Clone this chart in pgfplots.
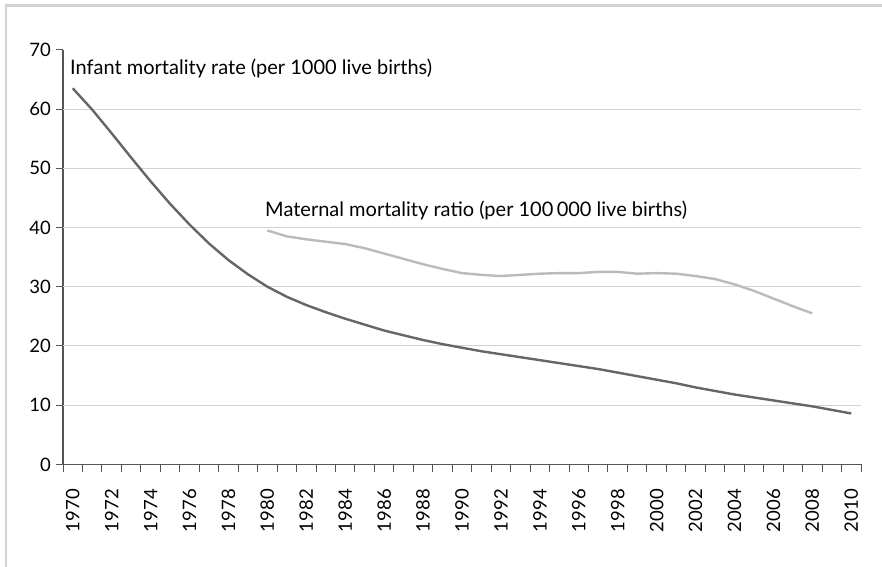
\documentclass[border=0pt]{standalone}
\usepackage{pgfplots}
\pgfplotsset{compat=1.18}
\usepackage{fontspec}
\setmainfont{Lato}
\definecolor{infant}{HTML}{666666}
\definecolor{maternal}{HTML}{BBBBBB}
\definecolor{gridc}{HTML}{D3D3D3}
\definecolor{axisc}{HTML}{555555}
\definecolor{framec}{HTML}{D2D2D2}
\begin{document}
\begin{tikzpicture}
\useasboundingbox (0,0) rectangle (882bp,567bp);
\fill[white] (0,0) rectangle (882bp,567bp);
\draw[framec, line width=2.6bp] (6bp,-2bp) -- (6bp,561.6bp) -- (884bp,561.6bp);
\begin{axis}[
  at={(63bp,102.6bp)}, anchor=south west,
  scale only axis, width=798bp, height=414.6bp,
  xmin=1969.5, xmax=2010.5, ymin=0, ymax=70,
  axis lines*=left,
  axis line style={axisc, line width=1.2bp},
  every tick/.style={axisc, line width=1bp},
  tick align=outside,
  xtick={1970,1972,...,2010},
  major x tick style={draw=none},
  minor xtick={1969.5,1970.5,...,2010.5},
  minor tick length=8bp,
  ytick={0,10,...,70},
  major tick length=7bp,
  extra y ticks={10,20,...,60},
  extra y tick labels={},
  extra y tick style={grid=major, major tick length=0pt},
  grid style={gridc, line width=0.9bp},
  /pgf/number format/assume math mode=true,
  /pgf/number format/1000 sep={},
  tick label style={font=\fontsize{18.5bp}{22bp}\selectfont, text=black},
  xticklabel style={rotate=90, anchor=east, inner sep=0pt},
  xticklabel shift=17.5bp,
  yticklabel style={anchor=east, inner sep=0pt},
  yticklabel shift=5bp,
  clip=false,
]
\addplot[infant, line width=2.4bp] coordinates {
(1970,63.5)(1971,59.9)(1972,55.9)(1973,51.8)(1974,47.8)(1975,44.0)
(1976,40.5)(1977,37.3)(1978,34.5)(1979,32.1)(1980,30.0)(1981,28.3)
(1982,26.9)(1983,25.7)(1984,24.6)(1985,23.6)(1986,22.6)(1987,21.8)
(1988,21.0)(1989,20.3)(1990,19.7)(1991,19.1)(1992,18.6)(1993,18.1)
(1994,17.6)(1995,17.1)(1996,16.6)(1997,16.1)(1998,15.5)(1999,14.9)
(2000,14.3)(2001,13.7)(2002,13.0)(2003,12.4)(2004,11.8)(2005,11.3)
(2006,10.8)(2007,10.3)(2008,9.8)(2009,9.2)(2010,8.6)
};
\addplot[maternal, line width=2.4bp] coordinates {
(1980,39.5)(1981,38.5)(1982,38.0)(1983,37.6)(1984,37.2)(1985,36.5)
(1986,35.6)(1987,34.7)(1988,33.8)(1989,33.0)(1990,32.3)(1991,32.0)
(1992,31.8)(1993,32.0)(1994,32.2)(1995,32.3)(1996,32.3)(1997,32.5)
(1998,32.5)(1999,32.2)(2000,32.3)(2001,32.2)(2002,31.8)(2003,31.3)
(2004,30.4)(2005,29.3)(2006,28.0)(2007,26.7)(2008,25.5)
};
\node[anchor=base west, inner sep=0pt, font=\fontsize{20bp}{24bp}\selectfont] at (axis cs:1969.86,65.75) {Infant mortality rate (per 1000 live births)};
\node[anchor=base west, inner sep=0pt, font=\fontsize{20bp}{24bp}\selectfont] at (axis cs:1979.88,41.8) {Maternal mortality ratio (per 100\,000 live births)};
\end{axis}
\end{tikzpicture}
\end{document}
